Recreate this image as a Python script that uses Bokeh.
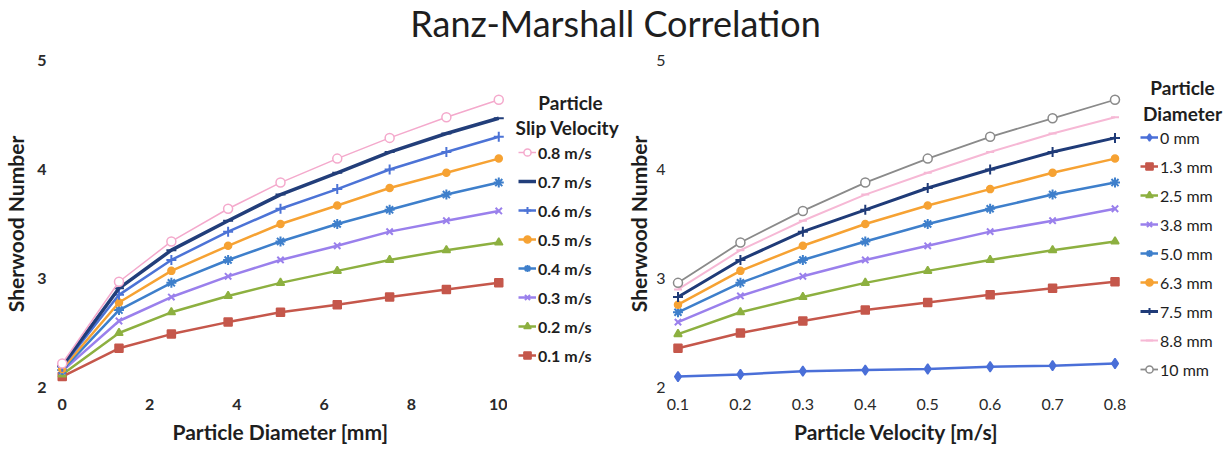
from bokeh.plotting import figure
from bokeh.models import Range1d, Legend, LegendItem, Label, FixedTicker
from bokeh.layouts import column, row
from bokeh.embed import file_html
from bokeh.resources import INLINE

# ---------------- data ----------------
velocities = [0.1, 0.2, 0.3, 0.4, 0.5, 0.6, 0.7, 0.8]          # m/s
diameters = [0.0, 1.3, 2.5, 3.8, 5.0, 6.3, 7.5, 8.8, 10.0]     # mm
velocity_labels = ["0.1 m/s", "0.2 m/s", "0.3 m/s", "0.4 m/s",
                   "0.5 m/s", "0.6 m/s", "0.7 m/s", "0.8 m/s"]
diameter_labels = ["0 mm", "1.3 mm", "2.5 mm", "3.8 mm", "5.0 mm",
                   "6.3 mm", "7.5 mm", "8.8 mm", "10 mm"]

# Sherwood number for each diameter, over the velocities
sh_d00 = [2.10, 2.12, 2.15, 2.16, 2.17, 2.19, 2.20, 2.22]
sh_d13 = [2.36, 2.50, 2.61, 2.71, 2.78, 2.85, 2.91, 2.97]
sh_d25 = [2.49, 2.69, 2.83, 2.96, 3.07, 3.17, 3.26, 3.34]
sh_d38 = [2.60, 2.84, 3.02, 3.17, 3.30, 3.43, 3.53, 3.64]
sh_d50 = [2.69, 2.96, 3.17, 3.34, 3.50, 3.64, 3.77, 3.88]
sh_d63 = [2.76, 3.07, 3.30, 3.50, 3.67, 3.82, 3.97, 4.10]
sh_d75 = [2.83, 3.17, 3.43, 3.63, 3.83, 4.00, 4.16, 4.29]
sh_d88 = [2.90, 3.26, 3.53, 3.77, 3.97, 4.16, 4.33, 4.48]
sh_d100 = [2.96, 3.33, 3.62, 3.88, 4.10, 4.30, 4.47, 4.64]

x_ticks_left = [0, 2, 4, 6, 8, 10]
x_ticks_right = [0.1, 0.2, 0.3, 0.4, 0.5, 0.6, 0.7, 0.8]
y_ticks = [2, 3, 4, 5]

sh_by_diameter = [sh_d00, sh_d13, sh_d25, sh_d38, sh_d50, sh_d63, sh_d75, sh_d88, sh_d100]
sh_by_velocity = [[series[j] for series in sh_by_diameter] for j in range(len(velocities))]

# ---------------- styles ----------------
FONT = "Lato"
TXT = "#1e1e1e"

# (color, marker, size, line_width, fill)
left_styles = [
    ("#C5574B", "square", 8, 2.5, True),      # 0.1
    ("#8DB040", "triangle", 8, 2.5, True),    # 0.2
    ("#9A80EC", "x", 9, 2.5, True),           # 0.3
    ("#3E7FCB", "asterisk", 10, 2.5, True),   # 0.4
    ("#F6A233", "circle", 7, 2.5, True),      # 0.5
    ("#4C73D6", "cross", 10, 2.5, True),      # 0.6
    ("#223E7A", "dash", 10, 3.5, True),       # 0.7
    ("#F4A9CC", "circle", 9, 1.5, False),     # 0.8
]
right_styles = [
    ("#4A6FD8", "diamond", 10, 2.5, True),    # 0 mm
    ("#C5574B", "square", 8, 2.5, True),      # 1.3
    ("#8DB040", "triangle", 8, 2.5, True),    # 2.5
    ("#9A80EC", "x", 9, 2.5, True),           # 3.8
    ("#3E7FCB", "asterisk", 10, 2.5, True),   # 5.0
    ("#F6A233", "circle", 7, 2.5, True),      # 6.3
    ("#1F3B78", "cross", 10, 3.0, True),      # 7.5
    ("#F6B8D5", "dash", 8, 2.0, True),        # 8.8
    ("#8A8A8A", "circle", 9, 1.8, False),     # 10
]


def style_axes(p, bold_ticks):
    for ax in (p.xaxis[0], p.yaxis[0]):
        ax.axis_line_color = None
        ax.major_tick_line_color = None
        ax.minor_tick_line_color = None
        ax.major_tick_out = 0
        ax.major_tick_in = 0
        ax.major_label_text_font = FONT
        ax.major_label_text_font_size = "16px"
        ax.major_label_text_font_style = "bold" if bold_ticks else "normal"
        ax.major_label_text_color = "#2a2a2a"
        ax.axis_label_text_font = FONT
        ax.axis_label_text_font_size = "21px"
        ax.axis_label_text_font_style = "bold"
        ax.axis_label_text_color = TXT
    p.xaxis.major_label_standoff = 11
    p.xaxis.axis_label_standoff = 6
    p.yaxis.major_label_standoff = 7
    p.yaxis.axis_label_standoff = 6
    p.xgrid.visible = False
    p.ygrid.visible = False
    p.outline_line_color = None


def mark_kwargs(style):
    color, marker, size, lw, fill = style
    return dict(marker=marker, size=size, line_color=color,
                fill_color=color if fill else "white",
                line_width=2 if marker in ("x", "asterisk", "cross", "dash") else 1.5)


def add_series(p, xs, ys, style):
    r_line = p.line(xs, ys, line_color=style[0], line_width=style[3])
    r_mark = p.scatter(xs, ys, **mark_kwargs(style))
    return [r_line, r_mark]


def legend_figure(width, xs, series, labels, styles, order, loc, bold, titles):
    # a frame-only panel holding the legend; the series are drawn here too, but
    # the ranges keep them out of view so only their legend glyphs are seen
    lf = figure(width=width, height=405, toolbar_location=None, output_backend="svg",
                x_axis_type=None, y_axis_type=None, min_border=0,
                x_range=Range1d(100, 101), y_range=Range1d(100, 101))
    lf.outline_line_color = None
    lf.grid.visible = False
    items = []
    for k in order:
        rs = add_series(lf, xs, series[k], styles[k])
        items.append(LegendItem(label=labels[k], renderers=rs))
    lg = Legend(items=items, location=loc)
    lg.padding = 0
    lg.margin = 0
    lg.spacing = 3
    lg.label_height = 26
    lg.glyph_height = 26
    lg.glyph_width = 18
    lg.label_standoff = 2
    lg.label_text_font = FONT
    lg.label_text_font_size = "16px"
    lg.label_text_font_style = "bold" if bold else "normal"
    lg.label_text_color = TXT
    lg.border_line_color = None
    lg.background_fill_alpha = 0
    lf.add_layout(lg)
    for text, tx, ty in titles:
        lf.add_layout(Label(x=tx, y=ty, x_units="screen", y_units="screen", text=text,
                            text_font=FONT, text_font_size="19px", text_font_style="bold",
                            text_color=TXT, text_align="center", text_baseline="middle"))
    return lf


# ---------------- title ----------------
pt = figure(width=1230, height=45, toolbar_location=None, output_backend="svg",
            x_axis_type=None, y_axis_type=None, min_border=0,
            x_range=Range1d(0, 1), y_range=Range1d(0, 1))
pt.outline_line_color = None
pt.grid.visible = False
pt.add_layout(Label(x=615, y=23, x_units="screen", y_units="screen",
                    text="Ranz-Marshall Correlation", text_font=FONT,
                    text_font_size="36px", text_color=TXT,
                    text_align="center", text_baseline="middle"))

# ---------------- left chart ----------------
p1 = figure(width=507, height=405, toolbar_location=None, output_backend="svg",
            x_range=Range1d(-0.2, 10.2), y_range=Range1d(2, 5),
            min_border_left=51, min_border_right=0, min_border_top=15, min_border_bottom=63)
style_axes(p1, bold_ticks=True)
p1.xaxis.ticker = FixedTicker(ticks=x_ticks_left)
p1.yaxis.ticker = FixedTicker(ticks=y_ticks)
p1.xaxis.axis_label = "Particle Diameter [mm]"
p1.yaxis.axis_label = "Sherwood Number"
for j in range(len(velocities)):
    add_series(p1, diameters, sh_by_velocity[j], left_styles[j])

leg1 = legend_figure(116, diameters, sh_by_velocity, velocity_labels, left_styles,
                     list(range(len(velocities)))[::-1], (11, 19), True,
                     [("Particle", 63, 285), ("Slip Velocity", 60, 260)])

# ---------------- right chart ----------------
p2 = figure(width=505, height=405, toolbar_location=None, output_backend="svg",
            x_range=Range1d(0.088, 0.812), y_range=Range1d(2, 5),
            min_border_left=39, min_border_right=6, min_border_top=15, min_border_bottom=63)
style_axes(p2, bold_ticks=False)
p2.xaxis.ticker = FixedTicker(ticks=x_ticks_right)
p2.yaxis.ticker = FixedTicker(ticks=y_ticks)
p2.xaxis.axis_label = "Particle Velocity [m/s]"
p2.yaxis.axis_label = "Sherwood Number"
p2.yaxis.major_label_standoff = 5
p2.yaxis.axis_label_standoff = 2
for i in range(len(diameters)):
    add_series(p2, velocities, sh_by_diameter[i], right_styles[i])

leg2 = legend_figure(102, velocities, sh_by_diameter, diameter_labels, right_styles,
                     list(range(len(diameters))), (12, 5), False,
                     [("Particle", 54, 300), ("Diameter", 54, 274)])

layout = column(pt, row(p1, leg1, p2, leg2, spacing=0), spacing=0)
open("out.html", "w").write(file_html(layout, INLINE))
